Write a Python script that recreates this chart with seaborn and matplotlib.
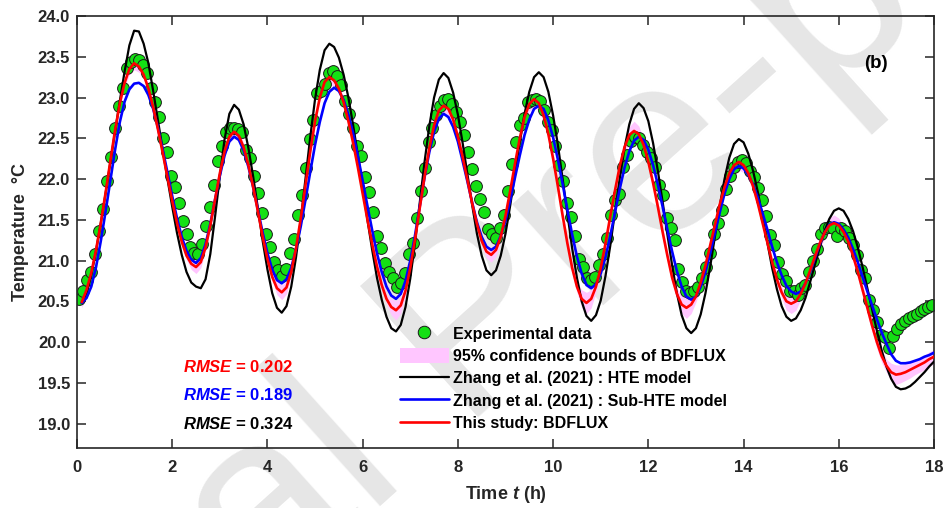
import numpy as np
import matplotlib
matplotlib.use("Agg")
import matplotlib.pyplot as plt
import seaborn as sns
from matplotlib.lines import Line2D
from matplotlib.patches import Patch
from matplotlib.ticker import FormatStrFormatter

# ---------------- data ----------------
# model curves sampled every 0.1 h from 0.1 h to 18.0 h
model_t = np.round(np.arange(1, 181) * 0.1, 1)

hte = [
    20.48, 20.60, 20.82, 21.12, 21.46, 21.82, 22.20, 22.58, 22.96, 23.32,
    23.64, 23.82, 23.81, 23.66, 23.42, 23.08, 22.72, 22.36, 22.00, 21.66,
    21.34, 21.07, 20.86, 20.73, 20.68, 20.66, 20.77, 21.08, 21.54, 22.03,
    22.49, 22.80, 22.91, 22.85, 22.67, 22.38, 22.03, 21.64, 21.24, 20.89,
    20.60, 20.42, 20.36, 20.44, 20.68, 21.04, 21.50, 22.01, 22.52, 22.98,
    23.34, 23.58, 23.66, 23.62, 23.49, 23.28, 23.00, 22.66, 22.29, 21.90,
    21.50, 21.13, 20.79, 20.52, 20.31, 20.17, 20.13, 20.21, 20.43, 20.78,
    21.22, 21.72, 22.21, 22.65, 23.00, 23.22, 23.30, 23.24, 23.06, 22.79,
    22.44, 22.06, 21.68, 21.33, 21.06, 20.88, 20.82, 20.88, 21.06, 21.33,
    21.68, 22.07, 22.45, 22.80, 23.07, 23.25, 23.31, 23.25, 23.07, 22.78,
    22.42, 22.00, 21.57, 21.15, 20.79, 20.50, 20.32, 20.26, 20.33, 20.51,
    20.81, 21.18, 21.60, 22.01, 22.38, 22.67, 22.86, 22.93, 22.87, 22.71,
    22.44, 22.10, 21.72, 21.32, 20.94, 20.60, 20.33, 20.17, 20.11, 20.17,
    20.34, 20.60, 20.93, 21.30, 21.67, 22.00, 22.26, 22.43, 22.49, 22.45,
    22.31, 22.10, 21.84, 21.53, 21.22, 20.91, 20.65, 20.44, 20.31, 20.26,
    20.29, 20.39, 20.54, 20.74, 20.95, 21.16, 21.36, 21.51, 21.61, 21.64,
    21.61, 21.51, 21.36, 21.16, 20.92, 20.66, 20.40, 20.14, 19.90, 19.70,
    19.55, 19.45, 19.42, 19.43, 19.46, 19.51, 19.57, 19.63, 19.70, 19.76,
]

sub_hte = [
    20.48, 20.54, 20.68, 20.92, 21.24, 21.60, 21.98, 22.36, 22.70, 22.95,
    23.10, 23.17, 23.18, 23.14, 23.03, 22.86, 22.63, 22.36, 22.08, 21.79,
    21.52, 21.29, 21.12, 21.01, 20.97, 21.03, 21.20, 21.45, 21.75, 22.04,
    22.29, 22.46, 22.52, 22.48, 22.35, 22.15, 21.90, 21.62, 21.34, 21.09,
    20.89, 20.76, 20.72, 20.77, 20.91, 21.14, 21.42, 21.75, 22.09, 22.42,
    22.70, 22.93, 23.07, 23.12, 23.08, 22.97, 22.79, 22.56, 22.28, 21.98,
    21.67, 21.37, 21.09, 20.86, 20.68, 20.57, 20.53, 20.59, 20.75, 21.00,
    21.31, 21.67, 22.02, 22.33, 22.58, 22.74, 22.80, 22.76, 22.64, 22.46,
    22.22, 21.97, 21.71, 21.47, 21.29, 21.17, 21.13, 21.17, 21.30, 21.49,
    21.74, 22.02, 22.29, 22.54, 22.73, 22.86, 22.90, 22.86, 22.72, 22.51,
    22.24, 21.94, 21.62, 21.32, 21.05, 20.84, 20.70, 20.66, 20.71, 20.84,
    21.04, 21.30, 21.59, 21.88, 22.14, 22.34, 22.47, 22.52, 22.48, 22.36,
    22.17, 21.93, 21.66, 21.38, 21.11, 20.87, 20.68, 20.56, 20.52, 20.56,
    20.68, 20.86, 21.09, 21.34, 21.59, 21.82, 22.00, 22.12, 22.16, 22.13,
    22.05, 21.93, 21.77, 21.58, 21.38, 21.17, 20.98, 20.82, 20.69, 20.62,
    20.59, 20.62, 20.72, 20.86, 21.03, 21.20, 21.34, 21.44, 21.47, 21.45,
    21.38, 21.28, 21.14, 20.98, 20.80, 20.62, 20.45, 20.28, 20.12, 19.98,
    19.85, 19.77, 19.74, 19.74, 19.75, 19.77, 19.79, 19.82, 19.84, 19.87,
]

bdflux = [
    20.49, 20.64, 20.85, 21.13, 21.46, 21.83, 22.22, 22.60, 22.93, 23.18,
    23.35, 23.42, 23.38, 23.28, 23.11, 22.88, 22.61, 22.32, 22.02, 21.73,
    21.46, 21.23, 21.06, 20.96, 20.92, 20.98, 21.16, 21.43, 21.75, 22.07,
    22.34, 22.52, 22.58, 22.53, 22.39, 22.17, 21.90, 21.60, 21.29, 21.02,
    20.80, 20.66, 20.61, 20.67, 20.86, 21.15, 21.52, 21.93, 22.34, 22.71,
    23.00, 23.19, 23.25, 23.21, 23.11, 22.94, 22.71, 22.44, 22.14, 21.82,
    21.50, 21.20, 20.93, 20.70, 20.53, 20.43, 20.39, 20.45, 20.63, 20.91,
    21.26, 21.65, 22.03, 22.38, 22.66, 22.84, 22.90, 22.86, 22.73, 22.52,
    22.27, 21.99, 21.70, 21.45, 21.24, 21.11, 21.07, 21.13, 21.29, 21.55,
    21.86, 22.19, 22.50, 22.76, 22.92, 22.98, 22.93, 22.78, 22.55, 22.25,
    21.91, 21.55, 21.21, 20.91, 20.68, 20.53, 20.48, 20.53, 20.68, 20.91,
    21.21, 21.54, 21.86, 22.16, 22.39, 22.54, 22.59, 22.55, 22.42, 22.21,
    21.95, 21.66, 21.35, 21.06, 20.79, 20.59, 20.46, 20.42, 20.46, 20.56,
    20.73, 20.94, 21.19, 21.44, 21.69, 21.90, 22.07, 22.17, 22.21, 22.17,
    22.07, 21.91, 21.70, 21.46, 21.22, 20.98, 20.77, 20.61, 20.50, 20.47,
    20.50, 20.59, 20.72, 20.88, 21.05, 21.21, 21.34, 21.43, 21.46, 21.43,
    21.35, 21.23, 21.06, 20.86, 20.64, 20.42, 20.20, 20.00, 19.83, 19.71,
    19.63, 19.60, 19.61, 19.63, 19.66, 19.69, 19.72, 19.75, 19.79, 19.82,
]

# half-width of the 95% confidence band of BDFLUX
band_hw = [
    0.07, 0.06, 0.05, 0.05, 0.05, 0.05, 0.05, 0.05, 0.05, 0.05,
    0.07, 0.08, 0.07, 0.05, 0.05, 0.05, 0.05, 0.05, 0.05, 0.05,
    0.05, 0.05, 0.05, 0.07, 0.08, 0.07, 0.05, 0.05, 0.05, 0.05,
    0.05, 0.07, 0.08, 0.07, 0.05, 0.05, 0.05, 0.05, 0.05, 0.05,
    0.05, 0.08, 0.09, 0.08, 0.05, 0.05, 0.05, 0.05, 0.05, 0.05,
    0.05, 0.08, 0.09, 0.08, 0.06, 0.06, 0.06, 0.06, 0.06, 0.06,
    0.06, 0.06, 0.06, 0.06, 0.06, 0.10, 0.12, 0.10, 0.06, 0.06,
    0.06, 0.06, 0.06, 0.06, 0.06, 0.08, 0.10, 0.08, 0.06, 0.06,
    0.06, 0.06, 0.06, 0.06, 0.06, 0.08, 0.09, 0.08, 0.06, 0.06,
    0.06, 0.06, 0.06, 0.06, 0.09, 0.10, 0.09, 0.07, 0.07, 0.07,
    0.07, 0.07, 0.07, 0.07, 0.07, 0.11, 0.13, 0.11, 0.07, 0.07,
    0.07, 0.07, 0.07, 0.07, 0.07, 0.10, 0.12, 0.10, 0.07, 0.07,
    0.07, 0.07, 0.07, 0.07, 0.07, 0.07, 0.11, 0.13, 0.11, 0.07,
    0.07, 0.07, 0.07, 0.07, 0.07, 0.07, 0.07, 0.09, 0.10, 0.09,
    0.07, 0.07, 0.07, 0.07, 0.07, 0.07, 0.07, 0.07, 0.11, 0.12,
    0.11, 0.07, 0.07, 0.07, 0.07, 0.07, 0.07, 0.09, 0.10, 0.09,
    0.08, 0.08, 0.08, 0.08, 0.08, 0.08, 0.08, 0.08, 0.08, 0.08,
    0.11, 0.12, 0.11, 0.10, 0.10, 0.09, 0.09, 0.09, 0.09, 0.09,
]

# experimental data, 5-minute sampling starting at 0.05 h
exp_t = 0.05 + np.arange(216) / 12.0
exp_temp = [
    20.53, 20.63, 20.76, 20.86, 21.08, 21.36, 21.63, 21.97, 22.27, 22.63, 22.90, 23.12,
    23.36, 23.44, 23.47, 23.46, 23.40, 23.30, 23.12, 22.95, 22.76, 22.50, 22.33, 22.04,
    21.90, 21.70, 21.48, 21.32, 21.16, 21.09, 21.08, 21.20, 21.42, 21.66, 21.93, 22.22,
    22.40, 22.58, 22.62, 22.63, 22.61, 22.58, 22.35, 22.26, 22.04, 21.83, 21.58, 21.32,
    21.16, 20.98, 20.88, 20.81, 20.90, 21.09, 21.27, 21.56, 21.80, 22.13, 22.49, 22.72,
    23.05, 23.08, 23.16, 23.30, 23.33, 23.27, 23.15, 22.96, 22.80, 22.62, 22.40, 22.28,
    22.03, 21.84, 21.60, 21.30, 21.15, 20.97, 20.86, 20.78, 20.68, 20.73, 20.85, 21.08,
    21.22, 21.52, 21.85, 22.13, 22.45, 22.62, 22.78, 22.90, 22.97, 22.98, 22.92, 22.82,
    22.70, 22.54, 22.33, 22.12, 21.92, 21.76, 21.60, 21.39, 21.32, 21.28, 21.40, 21.56,
    21.85, 22.18, 22.45, 22.66, 22.75, 22.94, 22.97, 22.98, 22.96, 22.85, 22.70, 22.60,
    22.40, 22.17, 21.98, 21.70, 21.53, 21.30, 21.02, 20.92, 20.78, 20.76, 20.80, 20.95,
    21.08, 21.28, 21.56, 21.74, 21.82, 22.15, 22.30, 22.47, 22.52, 22.50, 22.42, 22.33,
    22.26, 22.15, 21.93, 21.80, 21.52, 21.40, 21.25, 20.90, 20.74, 20.63, 20.60, 20.63,
    20.68, 20.78, 20.92, 21.09, 21.33, 21.46, 21.62, 21.88, 22.04, 22.15, 22.21, 22.23,
    22.20, 22.10, 22.02, 21.89, 21.74, 21.55, 21.31, 21.19, 20.98, 20.84, 20.75, 20.63,
    20.63, 20.58, 20.66, 20.70, 20.86, 21.00, 21.14, 21.33, 21.40, 21.41, 21.40, 21.30,
    21.40, 21.36, 21.28, 21.19, 21.07, 20.88, 20.78, 20.52, 20.39, 20.24, 20.09, 20.06,
    19.93, 20.07, 20.16, 20.22, 20.26, 20.29, 20.32, 20.35, 20.38, 20.41, 20.43, 20.46,
]

x_ticks = [0, 2, 4, 6, 8, 10, 12, 14, 16, 18]
y_ticks = [19.0, 19.5, 20.0, 20.5, 21.0, 21.5, 22.0, 22.5, 23.0, 23.5, 24.0]

legend_labels = [
    "Experimental data",
    "95% confidence bounds of BDFLUX",
    "Zhang et al. (2021) : HTE model",
    "Zhang et al. (2021) : Sub-HTE model",
    "This study: BDFLUX",
]
rmse_values = [("0.202", "#ff0000"), ("0.189", "#0000ff"), ("0.324", "#000000")]

# ---------------- style ----------------
sns.set_theme(style="ticks")
plt.rcParams["font.family"] = ["Liberation Sans", "DejaVu Sans"]
plt.rcParams["font.weight"] = "bold"
plt.rcParams["axes.labelweight"] = "bold"
plt.rcParams["mathtext.fontset"] = "custom"
plt.rcParams["mathtext.it"] = "Liberation Sans:italic:bold"
plt.rcParams["mathtext.rm"] = "Liberation Sans:bold"

dark = "#262626"
c_green = "#14e014"
c_pink = "#ffc6ff"

fig = plt.figure(figsize=(9.43, 5.08), dpi=100)
fig.patch.set_facecolor("white")
ax = fig.add_axes([77 / 943, 1 - 448 / 508, (934 - 77) / 943, (448 - 16) / 508])
ax.set_facecolor("none")

# watermark (behind everything)
fig.text(0.553, 0.254, "Journal Pre-proof", fontsize=185, rotation=42,
         rotation_mode="anchor", ha="center", va="baseline",
         color="#e6e6e6", fontweight="normal", zorder=-5)

bd = np.array(bdflux)
hw = np.array(band_hw)
ax.fill_between(model_t, bd - hw, bd + hw, color=c_pink, lw=0, zorder=1)

sns.scatterplot(x=exp_t, y=exp_temp, ax=ax, s=72, color=c_green,
                edgecolor="#1a1a1a", linewidth=0.7, zorder=2, legend=False)
sns.lineplot(x=model_t, y=hte, ax=ax, color="black", lw=1.6, zorder=3,
             estimator=None, legend=False)
sns.lineplot(x=model_t, y=sub_hte, ax=ax, color="#0000ff", lw=1.9, zorder=4,
             estimator=None, legend=False)
sns.lineplot(x=model_t, y=bdflux, ax=ax, color="#ff0000", lw=1.9, zorder=5,
             estimator=None, legend=False)

ax.set_xlim(0, 18)
ax.set_ylim(18.7, 24.0)
ax.set_xticks(x_ticks)
ax.set_yticks(y_ticks)
ax.yaxis.set_major_formatter(FormatStrFormatter("%.1f"))
for s in ax.spines.values():
    s.set_visible(True)
    s.set_linewidth(1.2)
    s.set_color(dark)
ax.tick_params(direction="in", length=6.5, width=1.1, top=True, right=True,
               labelsize=12, colors=dark)
ax.tick_params(axis="x", pad=9)
ax.tick_params(axis="y", pad=5)

ax.set_xlabel(r"Time $\mathit{t}$ (h)", fontsize=13, color=dark, labelpad=6)
ax.set_ylabel("Temperature  \u00b0C", fontsize=13, color=dark, labelpad=6)

# RMSE annotations
for (val, col), yy in zip(rmse_values, [19.69, 19.35, 19.0]):
    ax.text(2.23, yy, r"$\mathit{RMSE}$ = " + val, color=col, fontsize=12,
            fontweight="bold", ha="left", va="center", zorder=6)

ax.text(16.77, 23.42, "(b)", fontsize=13.5, fontweight="bold", ha="center",
        va="center", color="black", zorder=6)

handles = [
    Line2D([], [], ls="none", marker="o", markersize=9, markerfacecolor=c_green,
           markeredgecolor="#1a1a1a", markeredgewidth=0.7),
    Patch(facecolor=c_pink, edgecolor="none"),
    Line2D([], [], color="black", lw=1.6),
    Line2D([], [], color="#0000ff", lw=1.9),
    Line2D([], [], color="#ff0000", lw=1.9),
]
leg = ax.legend(handles, legend_labels, loc="upper left",
                bbox_to_anchor=((400 - 77) / 857, (448 - 326) / 432),
                frameon=False, fontsize=11.5, borderpad=0, borderaxespad=0,
                handlelength=3.05, handletextpad=0.27, handleheight=1.06,
                labelspacing=0.40)
for t in leg.get_texts():
    t.set_fontweight("bold")
    t.set_color("black")
leg.set_zorder(7)

fig.savefig("out.png", dpi=100, facecolor="white")
